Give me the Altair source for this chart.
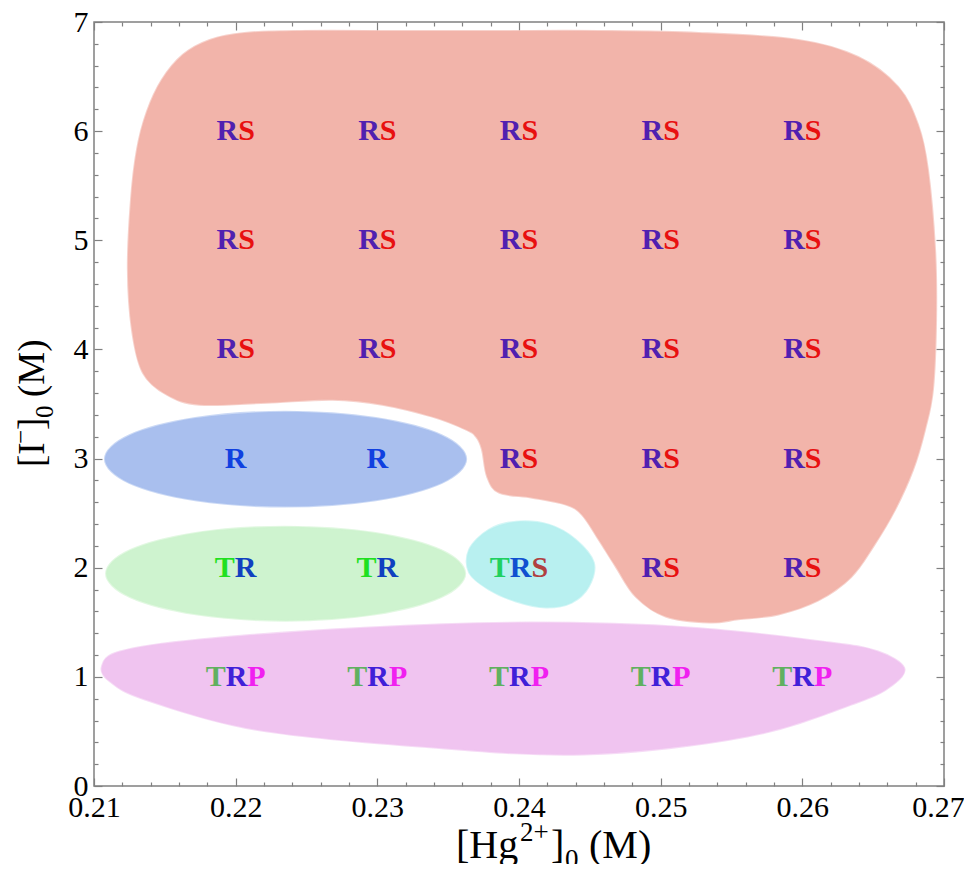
import altair as alt
import pandas as pd

# ------------------------------------------------------------------ data
x_ticks = [0.21, 0.22, 0.23, 0.24, 0.25, 0.26, 0.27]
y_ticks = [0, 1, 2, 3, 4, 5, 6, 7]
x_minor = [round(0.21 + 0.002 * i, 3) for i in range(31)]
y_minor = [round(0.2 * i, 1) for i in range(36)]

label_x = [0.22, 0.23, 0.24, 0.25, 0.26]
label_rows = {
    6: ["RS", "RS", "RS", "RS", "RS"],
    5: ["RS", "RS", "RS", "RS", "RS"],
    4: ["RS", "RS", "RS", "RS", "RS"],
    3: ["R", "R", "RS", "RS", "RS"],
    2: ["TR", "TR", "TRS", "RS", "RS"],
    1: ["TRP", "TRP", "TRP", "TRP", "TRP"],
}

# region outlines (data coordinates)
rs_x = [0.21239, 0.21261, 0.21303, 0.21373, 0.21479, 0.21627, 0.21817, 0.22063, 0.22451,
        0.23155, 0.23859, 0.24563, 0.25268, 0.25972, 0.26394, 0.26676, 0.26817, 0.26887,
        0.26937, 0.26944, 0.26922, 0.26866, 0.26782, 0.26655, 0.26507, 0.26345, 0.26113,
        0.25831, 0.25549, 0.25345, 0.25035, 0.24824, 0.24683, 0.24563, 0.24444, 0.24331,
        0.24092, 0.23859, 0.23775, 0.23739, 0.23697, 0.23627, 0.23387, 0.23035, 0.22683,
        0.22218, 0.21746, 0.21514, 0.21345, 0.21268]
rs_y = [4.739, 5.371, 5.829, 6.177, 6.470, 6.699, 6.836, 6.900, 6.918,
        6.918, 6.918, 6.918, 6.900, 6.836, 6.680, 6.406, 6.058, 5.646,
        4.913, 4.272, 3.631, 3.265, 2.899, 2.532, 2.207, 1.915, 1.700,
        1.572, 1.527, 1.498, 1.553, 1.735, 2.010, 2.257, 2.486, 2.578,
        2.642, 2.688, 2.834, 3.082, 3.200, 3.265, 3.384, 3.494, 3.539,
        3.512, 3.494, 3.585, 3.787, 4.180]

r_x = [0.23627, 0.23456, 0.22989, 0.22352, 0.21715, 0.21248, 0.21077, 0.21248, 0.21715,
       0.22352, 0.22989, 0.23456]
r_y = [2.995, 3.212, 3.371, 3.429, 3.371, 3.212, 2.995, 2.777, 2.618, 2.560, 2.618, 2.777]

tr_x = [0.23620, 0.23451, 0.22986, 0.22352, 0.21718, 0.21254, 0.21085, 0.21254, 0.21718,
        0.22352, 0.22986, 0.23451]
tr_y = [1.946, 2.161, 2.319, 2.376, 2.319, 2.161, 1.946, 1.731, 1.573, 1.515, 1.573, 1.731]

trs_x = [0.23648, 0.23789, 0.23979, 0.24211, 0.24401, 0.24528, 0.24493, 0.24373, 0.24190,
         0.23979, 0.23789, 0.23648]
trs_y = [2.166, 2.349, 2.422, 2.395, 2.257, 2.047, 1.827, 1.680, 1.635, 1.690, 1.799, 1.955]

trp_x = [0.21056, 0.21183, 0.21746, 0.22908, 0.24070, 0.25225, 0.26197, 0.26535, 0.26718,
         0.26641, 0.26387, 0.25613, 0.24458, 0.23296, 0.22134, 0.21359, 0.21113]
trp_y = [1.094, 1.232, 1.342, 1.451, 1.497, 1.451, 1.314, 1.232, 1.085,
         0.930, 0.765, 0.453, 0.289, 0.362, 0.518, 0.793, 0.957]

regions = [
    ("RS", "#F2B4AA", rs_x, rs_y),
    ("R", "#A9BFEE", r_x, r_y),
    ("TR", "#CEF3CF", tr_x, tr_y),
    ("TRS", "#B8F0F0", trs_x, trs_y),
    ("TRP", "#F0C4F0", trp_x, trp_y),
]

letter_colors = {
    "RS": ["#5020B0", "#E81010"],
    "R": ["#1040E0"],
    "TR": ["#20E020", "#1040C0"],
    "TRS": ["#20D060", "#1050D0", "#B04040"],
    "TRP": ["#60B060", "#4020D8", "#F020F0"],
}

# ------------------------------------------------------------------ layout
W, H = 850, 764
SERIF = "Liberation Serif"
FS = 30
char_w = {"R": 0.722, "S": 0.556, "T": 0.667, "P": 0.611}

xs = alt.Scale(domain=[0.21, 0.27], nice=False, zero=False)
ys = alt.Scale(domain=[0, 7], nice=False, zero=False)

layers = []
for name, col, rx, ry in regions:
    df = pd.DataFrame({"x": rx, "y": ry, "i": list(range(len(rx)))})
    layers.append(
        alt.Chart(df).mark_line(fill=col, stroke=col, strokeWidth=2, strokeOpacity=0.6,
                                interpolate="cardinal-closed")
        .encode(x=alt.X("x:Q", scale=xs, axis=None),
                y=alt.Y("y:Q", scale=ys, axis=None),
                order="i:Q")
    )

# letters
rows = []
for yv, labs in label_rows.items():
    for xv, lab in zip(label_x, labs):
        total = sum(char_w[c] for c in lab) * FS
        pos = -total / 2
        for c, colr in zip(lab, letter_colors[lab]):
            rows.append({"x": xv, "y": yv, "letter": c, "color": colr, "dx": round(pos, 1)})
            pos += char_w[c] * FS
letters = pd.DataFrame(rows)
for dxv in sorted(letters["dx"].unique()):
    sub = letters[letters["dx"] == dxv]
    layers.append(
        alt.Chart(sub).mark_text(align="left", baseline="middle", dx=float(dxv), font=SERIF,
                                 fontWeight="bold", fontSize=FS)
        .encode(x=alt.X("x:Q", scale=xs, axis=None),
                y=alt.Y("y:Q", scale=ys, axis=None),
                text="letter:N",
                color=alt.Color("color:N", scale=None))
    )

# axes carriers
carrier_df = pd.DataFrame({"x": [0.24], "y": [3.5]})
grey = "#808080"
x_tsize = {"condition": {"test": "abs(datum.value*100 - round(datum.value*100)) < 0.001", "value": 8}, "value": 4}
y_tsize = {"condition": {"test": "abs(datum.value - round(datum.value)) < 0.001", "value": 8}, "value": 4}
x_loff = {"condition": {"test": "datum.value > 0.2695", "value": -6}, "value": 0}

lab_kw = dict(labelFont=SERIF, labelFontSize=30, labelColor="black", ticks=False, domain=False,
              grid=False, title=None, labelFlush=False, labelOverlap=False)
layers.append(
    alt.Chart(carrier_df).mark_point(opacity=0).encode(
        x=alt.X("x:Q", scale=xs, axis=alt.Axis(orient="bottom", values=x_ticks, format=".2f",
                                                labelPadding=6, labelOffset=x_loff, **lab_kw)),
        y=alt.Y("y:Q", scale=ys, axis=alt.Axis(orient="left", values=y_ticks, format="d",
                                                labelPadding=6, **lab_kw)),
    )
)
tick_kw = dict(labels=False, domain=False, grid=False, title=None, tickColor=grey, tickWidth=1.2)
layers.append(
    alt.Chart(carrier_df).mark_point(opacity=0).encode(
        x=alt.X("x:Q", scale=xs, axis=alt.Axis(orient="top", offset=-H, values=x_minor,
                                                tickSize=x_tsize, **tick_kw)),
        y=alt.Y("y:Q", scale=ys, axis=alt.Axis(orient="right", offset=-W, values=y_minor,
                                                tickSize=y_tsize, **tick_kw)),
    )
)
layers.append(
    alt.Chart(carrier_df).mark_point(opacity=0).encode(
        x=alt.X("x:Q", scale=xs, axis=alt.Axis(orient="bottom", offset=-H, values=x_minor,
                                                tickSize=x_tsize, **tick_kw)),
        y=alt.Y("y:Q", scale=ys, axis=alt.Axis(orient="left", offset=-W, values=y_minor,
                                                tickSize=y_tsize, **tick_kw)),
    )
)

# axis titles built from pieces (super/subscripts)
one = pd.DataFrame({"t": ["a"]})


def piece(txt, px, py, size, angle=0):
    return alt.Chart(one).mark_text(text=txt, font=SERIF, fontSize=size, align="left",
                                    baseline="alphabetic", angle=angle, color="black").encode(
        x=alt.value(px), y=alt.value(py))


# x title: [Hg2+]0 (M)
XF, XS = 40, 27
bx, by = 362, 836
layers += [
    piece("[Hg", bx, by, XF),
    piece("2+", bx + 64, by - 17, XS),
    piece("]", bx + 95, by, XF),
    piece("0", bx + 109, by + 10, XS),
    piece("(M)", bx + 133, by, XF),
]
# y title: [I-]0 (M), rotated
YF, YS = 37, 25
yx, yy = -50, 445
layers += [
    piece("[I", yx, yy, YF, 270),
    piece("\u2212", yx - 15, yy - 23, YS, 270),
    piece("]", yx, yy - 37, YF, 270),
    piece("0", yx + 9, yy - 49, YS, 270),
    piece("(M)", yx, yy - 70, YF, 270),
]

chart = alt.layer(*layers).resolve_axis(x="independent", y="independent").properties(
    width=W, height=H, padding={"left": 86, "top": 14, "right": 20, "bottom": 78},
    autosize=alt.AutoSizeParams(type="none"),
).configure_view(stroke=grey, strokeWidth=1.5)

chart.save("out.html", embed_options={"renderer": "svg", "actions": False})
